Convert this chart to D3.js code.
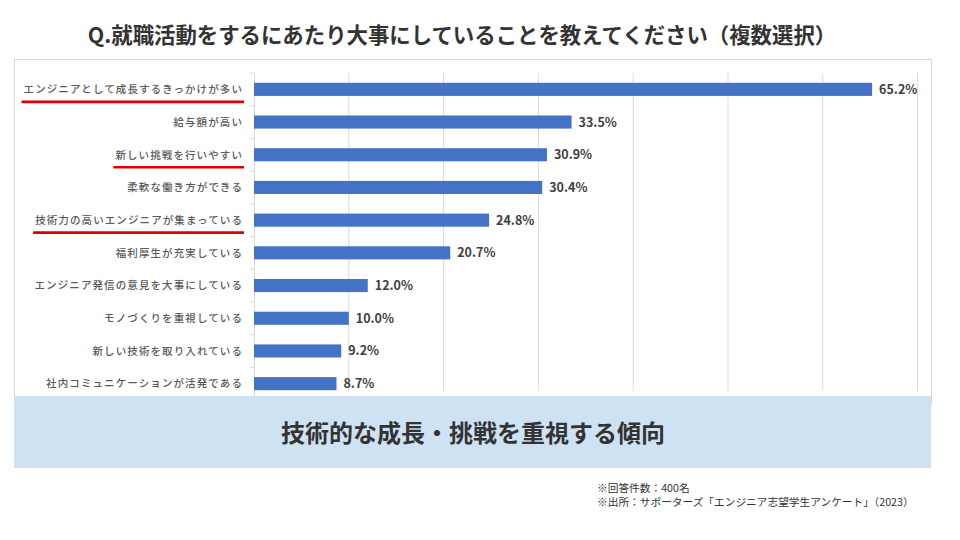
<!DOCTYPE html>
<html lang="ja">
<head>
<meta charset="utf-8">
<script src="https://cdn.jsdelivr.net/npm/d3@7"></script>
<style>
  html, body { margin: 0; padding: 0; background: #fff; }
  svg { display: block; }
  text { font-family: "Noto Sans CJK JP", "Noto Sans", sans-serif; }
</style>
</head>
<body>
<svg id="chart" width="960" height="540"></svg>
<script>
const title = "Q.就職活動をするにあたり大事にしていることを教えてください（複数選択）";
const categories = [
  "エンジニアとして成長するきっかけが多い",
  "給与額が高い",
  "新しい挑戦を行いやすい",
  "柔軟な働き方ができる",
  "技術力の高いエンジニアが集まっている",
  "福利厚生が充実している",
  "エンジニア発信の意見を大事にしている",
  "モノづくりを重視している",
  "新しい技術を取り入れている",
  "社内コミュニケーションが活発である"
];
const values = [65.2, 33.5, 30.9, 30.4, 24.8, 20.7, 12.0, 10.0, 9.2, 8.7];
const highlighted = [
  "エンジニアとして成長するきっかけが多い",
  "新しい挑戦を行いやすい",
  "技術力の高いエンジニアが集まっている"
];
const xTicks = [0, 10, 20, 30, 40, 50, 60, 70];
const summary = "技術的な成長・挑戦を重視する傾向";
const notes = ["※回答件数：400名", "※出所：サポーターズ「エンジニア志望学生アンケート」（2023）"];

const svg = d3.select("#chart");

// Title
svg.append("text")
  .attr("x", 462).attr("y", 43)
  .attr("text-anchor", "middle")
  .attr("font-size", 21.4).attr("font-weight", 700)
  .attr("fill", "#333")
  .text(title);

// Chart frame
svg.append("rect")
  .attr("x", 14.5).attr("y", 59.5).attr("width", 917).attr("height", 345)
  .attr("fill", "#fff").attr("stroke", "#d9d9d9").attr("stroke-width", 1);

const x = d3.scaleLinear().domain([0, 70]).range([254, 917.6]);
const y = d3.scaleBand().domain(categories).range([73, 400]).paddingInner(0.6).paddingOuter(0.3);

// Gridlines
svg.append("g").selectAll("line")
  .data(xTicks.filter(d => d > 0))
  .join("line")
  .attr("x1", d => x(d)).attr("x2", d => x(d))
  .attr("y1", 73).attr("y2", 391)
  .attr("stroke", "#d9d9d9").attr("stroke-width", 1);

// Category axis
const yAxis = d3.axisLeft(y).tickSize(0).tickFormat("");
const gAxis = svg.append("g").attr("transform", "translate(254,0)").call(yAxis);
gAxis.select(".domain").attr("stroke", "#d9d9d9");
// boundary ticks
svg.append("g").selectAll("line")
  .data(d3.range(categories.length + 1))
  .join("line")
  .attr("x1", 250).attr("x2", 254)
  .attr("y1", i => 73 + i * (327 / categories.length))
  .attr("y2", i => 73 + i * (327 / categories.length))
  .attr("stroke", "#d9d9d9");

// Bars
svg.append("g").selectAll("rect")
  .data(values)
  .join("rect")
  .attr("x", x(0))
  .attr("y", (d, i) => y(categories[i]))
  .attr("width", d => x(d) - x(0))
  .attr("height", y.bandwidth())
  .attr("fill", "#4472c4");

// Value labels
svg.append("g").selectAll("text")
  .data(values)
  .join("text")
  .attr("x", d => x(d) + 7)
  .attr("y", (d, i) => y(categories[i]) + y.bandwidth() / 2 + 4.5)
  .attr("font-size", 12.5).attr("font-weight", 700)
  .attr("fill", "#404040")
  .text(d => d.toFixed(1) + "%");

// Category labels
const labels = svg.append("g").selectAll("text")
  .data(categories)
  .join("text")
  .attr("x", 243)
  .attr("y", d => y(d) + y.bandwidth() / 2 + 3.8)
  .attr("text-anchor", "end")
  .attr("font-size", 10.5).attr("font-weight", 500)
  .attr("letter-spacing", 1.1)
  .attr("fill", "#595959")
  .text(d => d);

// Red underlines
labels.each(function(d) {
  if (!highlighted.includes(d)) return;
  const bb = this.getBBox();
  svg.append("line")
    .attr("x1", bb.x - 2).attr("x2", 244)
    .attr("y1", y(d) + y.bandwidth() / 2 + 12.5)
    .attr("y2", y(d) + y.bandwidth() / 2 + 12.5)
    .attr("stroke", "#e00000").attr("stroke-width", 2.6);
});

// Summary box
svg.append("rect")
  .attr("x", 14).attr("y", 396).attr("width", 917).attr("height", 72)
  .attr("fill", "#cfe2f3");
svg.append("text")
  .attr("x", 473).attr("y", 441.5)
  .attr("text-anchor", "middle")
  .attr("font-size", 24).attr("font-weight", 700)
  .attr("fill", "#333")
  .text(summary);

// Notes
svg.append("g").selectAll("text")
  .data(notes)
  .join("text")
  .attr("x", 597)
  .attr("y", (d, i) => 492 + i * 14)
  .attr("font-size", 10.7).attr("font-weight", 400)
  .attr("fill", "#333")
  .text(d => d);
</script>
</body>
</html>
